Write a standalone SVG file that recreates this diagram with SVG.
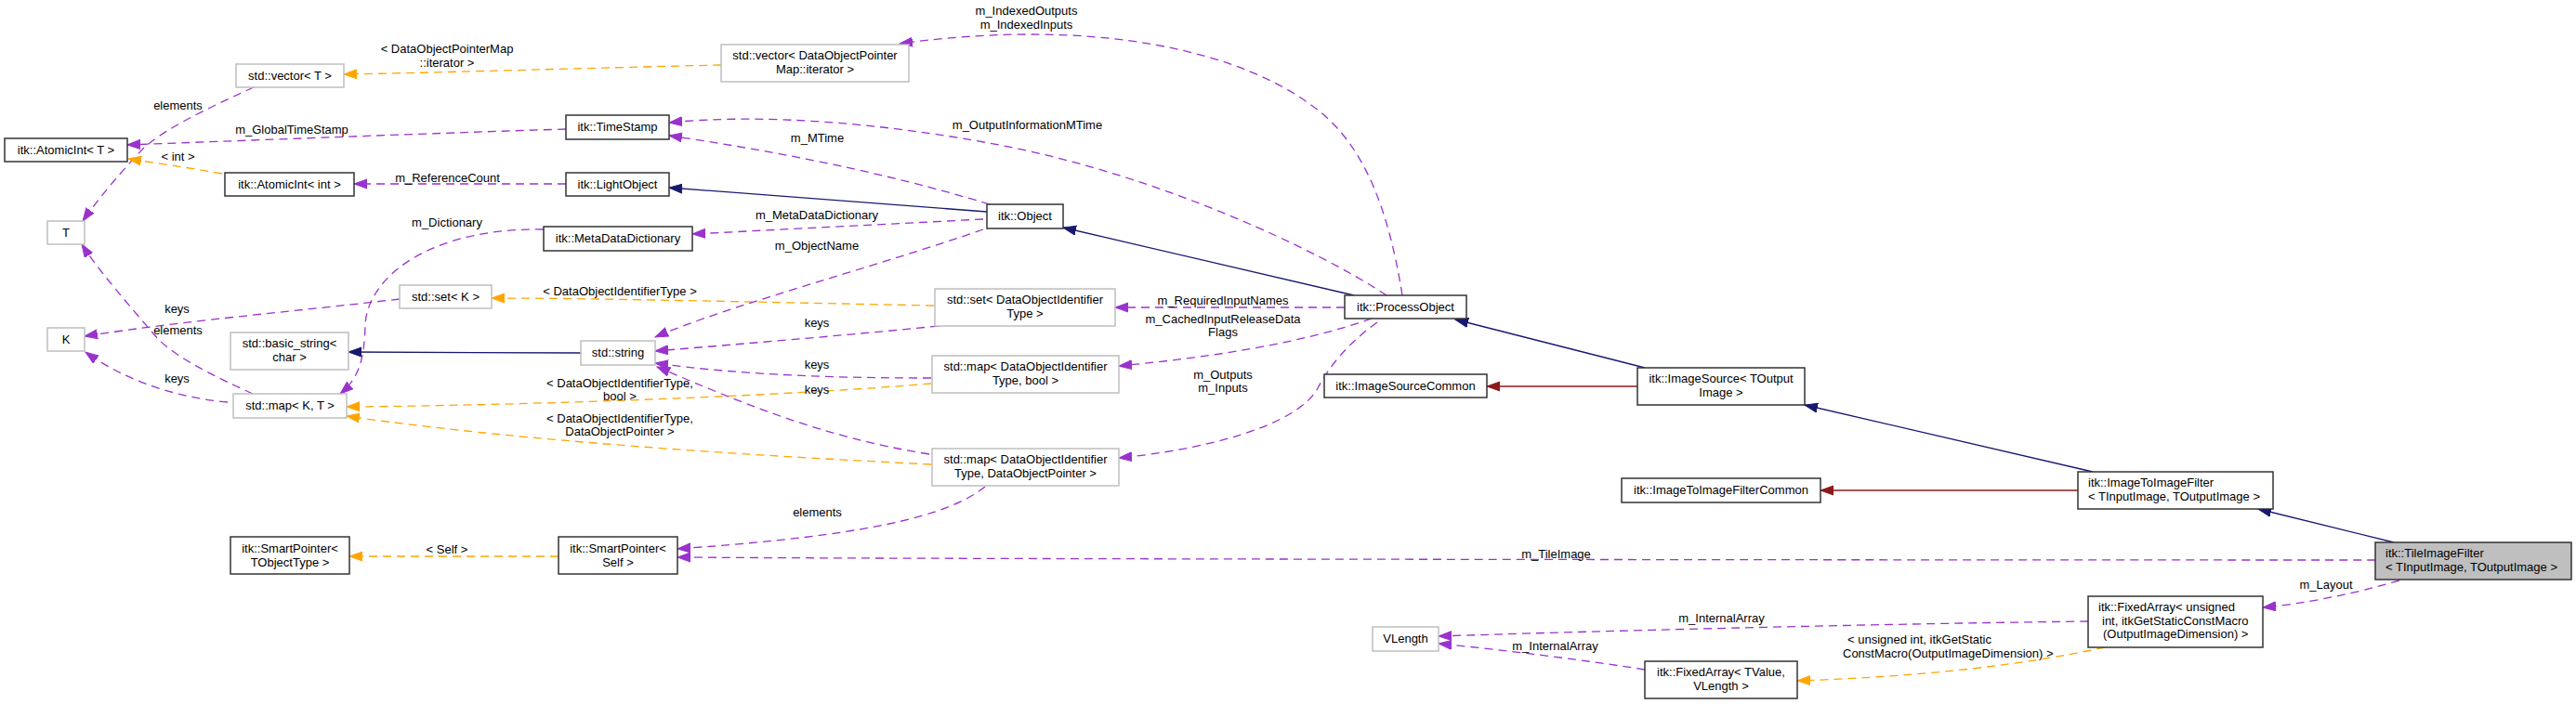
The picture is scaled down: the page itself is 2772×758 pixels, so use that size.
<svg xmlns="http://www.w3.org/2000/svg" width="2772" height="758" viewBox="0 0 2772 758">
<style>
text{font-family:"Liberation Sans",Arial,sans-serif;font-size:13px;fill:#000}
.c{text-anchor:middle}
.node rect{fill:#fff;stroke-width:1.5}
.doc rect{stroke:#333}
.und rect{stroke:#bfbfbf}
.cur rect{fill:#bfbfbf;stroke:#333}
.e{fill:none;stroke-width:1.3}
.p{stroke:#9a32cd;stroke-dasharray:9,6;marker-end:url(#mp)}
.o{stroke:#ffa500;stroke-dasharray:9,6;marker-end:url(#mo)}
.nv{stroke:#191970;marker-end:url(#mn)}
.fb{stroke:#8b1a1a;marker-end:url(#mf)}
</style>
<defs>
<marker id="mp" markerUnits="userSpaceOnUse" markerWidth="16" markerHeight="12" refX="14" refY="5.5" orient="auto"><path d="M0,0.5 L14,5.5 L0,10.5 z" fill="#9a32cd" stroke="#9a32cd" stroke-width="1"/></marker>
<marker id="mo" markerUnits="userSpaceOnUse" markerWidth="16" markerHeight="12" refX="14" refY="5.5" orient="auto"><path d="M0,0.5 L14,5.5 L0,10.5 z" fill="#ffa500" stroke="#ffa500" stroke-width="1"/></marker>
<marker id="mn" markerUnits="userSpaceOnUse" markerWidth="16" markerHeight="12" refX="14" refY="5.5" orient="auto"><path d="M0,0.5 L14,5.5 L0,10.5 z" fill="#191970" stroke="#191970" stroke-width="1"/></marker>
<marker id="mf" markerUnits="userSpaceOnUse" markerWidth="16" markerHeight="12" refX="14" refY="5.5" orient="auto"><path d="M0,0.5 L14,5.5 L0,10.5 z" fill="#8b1a1a" stroke="#8b1a1a" stroke-width="1"/></marker>
</defs>
<rect x="0" y="0" width="2772" height="758" fill="#fff"/>

<g id="edges">
<path class="e o" d="M776,70 C 640,73 480,78 370,80"/>
<path class="e p" d="M273,94 C 220,118 175,140 154,160 C 130,185 105,215 89,238"/>
<path class="e p" d="M609,139 C 450,144 300,150 137,156"/>
<path class="e o" d="M239,187 C 200,180 170,176 138,171"/>
<path class="e p" d="M609,198 L381,198"/>
<path class="e p" d="M585,247 C 460,245 395,300 393,350 C 392,390 385,408 366,424"/>
<path class="e p" d="M430,322 C 320,335 200,345 91,362"/>
<path class="e p" d="M272,424 C 230,405 190,385 170,365 C 140,330 105,290 88,263"/>
<path class="e p" d="M245,433 C 190,428 135,410 92,379"/>
<path class="e nv" d="M625,380 L375,379"/>
<path class="e o" d="M1005,329 C 800,325 640,321 529,321"/>
<path class="e p" d="M1065,220 C 950,185 830,162 720,146"/>
<path class="e p" d="M1492,318 C 1420,270 1250,190 1080,157 C 950,132 820,122 720,132"/>
<path class="e nv" d="M1062,228 L720,202"/>
<path class="e p" d="M1058,236 L745,252"/>
<path class="e p" d="M1058,247 C 950,285 780,330 705,363"/>
<path class="e nv" d="M1457,318 L1144,245"/>
<path class="e p" d="M1509,318 C 1495,230 1470,160 1420,120 C 1340,55 1180,18 968,47"/>
<path class="e p" d="M1447,331 L1200,331"/>
<path class="e p" d="M1476,343 C 1400,370 1300,385 1204,394"/>
<path class="e p" d="M1482,347 C 1450,370 1430,395 1418,418 C 1395,460 1290,485 1204,493"/>
<path class="e p" d="M1010,351 C 900,362 800,370 705,378"/>
<path class="e p" d="M1002,407 C 900,407 800,404 705,391"/>
<path class="e o" d="M1002,413 C 860,425 600,436 373,438"/>
<path class="e p" d="M1000,489 C 880,470 790,430 707,395"/>
<path class="e o" d="M1002,500 C 800,490 560,475 373,448"/>
<path class="e p" d="M1060,524 C 1010,565 880,580 729,591"/>
<path class="e p" d="M2556,603 C 2000,603 1000,602 729,600"/>
<path class="e o" d="M601,599 L376,599"/>
<path class="e fb" d="M1762,416 L1600,416"/>
<path class="e nv" d="M1770,396 L1566,344"/>
<path class="e nv" d="M2252,508 L1942,436"/>
<path class="e fb" d="M2236,528 L1959,528"/>
<path class="e nv" d="M2576,584 L2430,548"/>
<path class="e p" d="M2582,625 C 2530,640 2480,650 2435,654"/>
<path class="e p" d="M2247,669 C 2000,672 1700,680 1548,685"/>
<path class="e p" d="M1770,721 C 1700,710 1620,700 1548,693"/>
<path class="e o" d="M2265,697 C 2180,715 2080,728 1934,733"/>

<text class="c" x="481" y="57">&lt; DataObjectPointerMap</text>
<text class="c" x="481" y="72">::iterator &gt;</text>
<text class="c" x="191.5" y="117.5">elements</text>
<text class="c" x="314" y="144">m_GlobalTimeStamp</text>
<text class="c" x="191.5" y="173">&lt; int &gt;</text>
<text class="c" x="481.5" y="196">m_ReferenceCount</text>
<text class="c" x="481" y="244">m_Dictionary</text>
<text class="c" x="190.5" y="337">keys</text>
<text class="c" x="191.5" y="360">elements</text>
<text class="c" x="190.5" y="412">keys</text>
<text class="c" x="481" y="596">&lt; Self &gt;</text>
<text class="c" x="667" y="317.5">&lt; DataObjectIdentifierType &gt;</text>
<text class="c" x="879" y="352">keys</text>
<text class="c" x="879" y="397">keys</text>
<text class="c" x="879" y="424">keys</text>
<text class="c" x="667" y="416.5">&lt; DataObjectIdentifierType,</text>
<text class="c" x="667" y="431">bool &gt;</text>
<text class="c" x="667" y="455">&lt; DataObjectIdentifierType,</text>
<text class="c" x="667" y="469">DataObjectPointer &gt;</text>
<text class="c" x="1104.5" y="16">m_IndexedOutputs</text>
<text class="c" x="1104.5" y="31">m_IndexedInputs</text>
<text class="c" x="1105.5" y="139">m_OutputInformationMTime</text>
<text class="c" x="879.5" y="153">m_MTime</text>
<text class="c" x="879" y="236">m_MetaDataDictionary</text>
<text class="c" x="879" y="269">m_ObjectName</text>
<text class="c" x="1316" y="327.5">m_RequiredInputNames</text>
<text class="c" x="1316" y="347.5">m_CachedInputReleaseData</text>
<text class="c" x="1316" y="361.5">Flags</text>
<text class="c" x="1316" y="407.5">m_Outputs</text>
<text class="c" x="1316" y="421.5">m_Inputs</text>
<text class="c" x="879.5" y="555.5">elements</text>
<text class="c" x="1674.5" y="600.5">m_TileImage</text>
<text class="c" x="1852.5" y="669.5">m_InternalArray</text>
<text class="c" x="1673.5" y="699.5">m_InternalArray</text>
<text class="c" x="2503" y="633.5">m_Layout</text>
<text x="1988" y="692.5">&lt; unsigned int, itkGetStatic</text>
<text x="1983" y="707.5">ConstMacro(OutputImageDimension) &gt;</text>
</g>

<g id="n_AtomicIntT" class="node doc"><rect x="5" y="149" width="132" height="25"/><text class="c" x="71" y="166">itk::AtomicInt&lt; T &gt;</text></g>
<g id="n_T" class="node und"><rect x="51" y="238" width="40" height="25"/><text class="c" x="71" y="255">T</text></g>
<g id="n_K" class="node und"><rect x="51" y="353" width="40" height="25"/><text class="c" x="71" y="370">K</text></g>
<g id="n_vectorT" class="node und"><rect x="254" y="69" width="116" height="25"/><text class="c" x="312" y="86">std::vector&lt; T &gt;</text></g>
<g id="n_AtomicIntInt" class="node doc"><rect x="242" y="186" width="139" height="25"/><text class="c" x="311.5" y="203">itk::AtomicInt&lt; int &gt;</text></g>
<g id="n_setK" class="node und"><rect x="430" y="307" width="99" height="25"/><text class="c" x="479.5" y="324">std::set&lt; K &gt;</text></g>
<g id="n_basicString" class="node und"><rect x="248" y="358" width="127" height="40"/><text class="c" x="311.5" y="374">std::basic_string&lt;</text><text class="c" x="311.5" y="389">char &gt;</text></g>
<g id="n_mapKT" class="node und"><rect x="251" y="424" width="122" height="26"/><text class="c" x="312" y="441">std::map&lt; K, T &gt;</text></g>
<g id="n_SmartPointerTObjectType" class="node doc"><rect x="248" y="578" width="128" height="40"/><text class="c" x="312" y="594.5">itk::SmartPointer&lt;</text><text class="c" x="312" y="609.5">TObjectType &gt;</text></g>
<g id="n_TimeStamp" class="node doc"><rect x="609" y="124" width="111" height="26"/><text class="c" x="664.5" y="141">itk::TimeStamp</text></g>
<g id="n_LightObject" class="node doc"><rect x="609" y="186" width="111" height="25"/><text class="c" x="664.5" y="203">itk::LightObject</text></g>
<g id="n_MetaDataDictionary" class="node doc"><rect x="585" y="244" width="160" height="26"/><text class="c" x="665" y="261">itk::MetaDataDictionary</text></g>
<g id="n_string" class="node und"><rect x="625" y="367" width="80" height="26"/><text class="c" x="665" y="384">std::string</text></g>
<g id="n_SmartPointerSelf" class="node doc"><rect x="601" y="578" width="128" height="40"/><text class="c" x="665" y="594.5">itk::SmartPointer&lt;</text><text class="c" x="665" y="609.5">Self &gt;</text></g>
<g id="n_vectorDOPM" class="node und"><rect x="776" y="48" width="202" height="40"/><text class="c" x="877" y="64">std::vector&lt; DataObjectPointer</text><text class="c" x="877" y="79">Map::iterator &gt;</text></g>
<g id="n_Object" class="node doc"><rect x="1062" y="220" width="82" height="26"/><text class="c" x="1103" y="237">itk::Object</text></g>
<g id="n_setDOIT" class="node und"><rect x="1006" y="311" width="194" height="40"/><text class="c" x="1103" y="327">std::set&lt; DataObjectIdentifier</text><text class="c" x="1103" y="342">Type &gt;</text></g>
<g id="n_mapDOITbool" class="node und"><rect x="1003" y="383" width="201" height="40"/><text class="c" x="1103.5" y="399">std::map&lt; DataObjectIdentifier</text><text class="c" x="1103.5" y="414">Type, bool &gt;</text></g>
<g id="n_mapDOITDOP" class="node und"><rect x="1003" y="483" width="201" height="40"/><text class="c" x="1103.5" y="499">std::map&lt; DataObjectIdentifier</text><text class="c" x="1103.5" y="514">Type, DataObjectPointer &gt;</text></g>
<g id="n_ProcessObject" class="node doc"><rect x="1447" y="318" width="131" height="25"/><text class="c" x="1512.5" y="335">itk::ProcessObject</text></g>
<g id="n_ImageSourceCommon" class="node doc"><rect x="1425" y="403" width="175" height="25"/><text class="c" x="1512.5" y="420">itk::ImageSourceCommon</text></g>
<g id="n_ImageSource" class="node doc"><rect x="1762" y="396" width="180" height="40"/><text class="c" x="1852" y="412">itk::ImageSource&lt; TOutput</text><text class="c" x="1852" y="427">Image &gt;</text></g>
<g id="n_ImageToImageFilterCommon" class="node doc"><rect x="1745" y="515" width="214" height="26"/><text class="c" x="1852" y="532">itk::ImageToImageFilterCommon</text></g>
<g id="n_ImageToImageFilter" class="node doc"><rect x="2236" y="508" width="210" height="40"/><text x="2247" y="524">itk::ImageToImageFilter</text><text x="2247" y="539">&lt; TInputImage, TOutputImage &gt;</text></g>
<g id="n_TileImageFilter" class="node cur"><rect x="2556" y="584" width="211" height="40"/><text x="2567" y="599.5">itk::TileImageFilter</text><text x="2567" y="615">&lt; TInputImage, TOutputImage &gt;</text></g>
<g id="n_FixedArrayUnsigned" class="node doc"><rect x="2247" y="642" width="188" height="55"/><text x="2258" y="658">itk::FixedArray&lt; unsigned</text><text x="2262" y="673">int, itkGetStaticConstMacro</text><text x="2263" y="687">(OutputImageDimension) &gt;</text></g>
<g id="n_VLength" class="node und"><rect x="1477" y="675" width="71" height="26"/><text class="c" x="1512.5" y="692">VLength</text></g>
<g id="n_FixedArrayTValue" class="node doc"><rect x="1770" y="712" width="164" height="40"/><text class="c" x="1852" y="728">itk::FixedArray&lt; TValue,</text><text class="c" x="1852" y="743">VLength &gt;</text></g>
</svg>
